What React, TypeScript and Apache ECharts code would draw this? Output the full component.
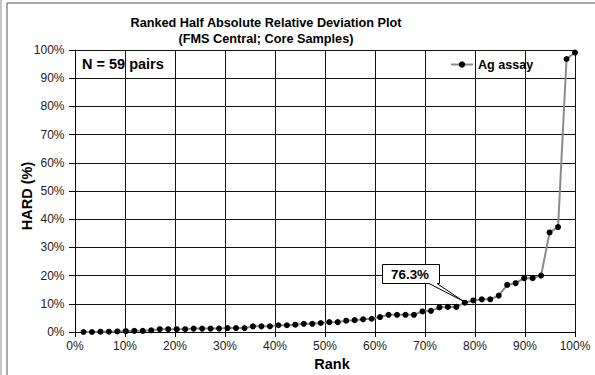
import React, { useEffect, useRef } from "react";
import * as echarts from "echarts";

const seriesName = "Ag assay";
const hardPct: number[] = [
  0.0, 0.0, 0.1, 0.1, 0.2, 0.3, 0.4, 0.4, 0.6, 1.0,
  1.0, 1.0, 1.0, 1.2, 1.2, 1.2, 1.2, 1.4, 1.4, 1.4,
  2.0, 2.0, 2.0, 2.4, 2.4, 2.6, 2.9, 2.9, 3.2, 3.5,
  3.5, 4.0, 4.2, 4.5, 4.7, 5.3, 6.1, 6.1, 6.1, 6.1,
  7.3, 7.5, 8.7, 8.9, 8.9, 10.4, 11.2, 11.6, 11.6, 12.9,
  16.7, 17.3, 19.1, 19.1, 20.0, 35.3, 37.2, 96.8, 99.1,
];
const titleLines = ["Ranked Half Absolute Relative Deviation Plot", "(FMS Central; Core Samples)"];
const nLabel = "N = 59 pairs";
const calloutLabel = "76.3%";
const xAxisTitle = "Rank";
const yAxisTitle = "HARD (%)";

const FONT = "'Liberation Sans', Arial, sans-serif";

export default function App() {
  const ref = useRef<HTMLDivElement>(null);
  useEffect(() => {
    document.body.style.margin = "0";
    if (!ref.current) return;
    const chart = echarts.init(ref.current, null, { renderer: "svg" });
    const n = hardPct.length;
    const data = hardPct.map((v, i) => [((i + 1) / n) * 100, v]);
    chart.setOption({
      animation: false,
      backgroundColor: "#fff",
      textStyle: { fontFamily: FONT },
      grid: { left: 75, right: 20, top: 50, bottom: 43, containLabel: false },
      legend: {
        data: [seriesName],
        left: 450,
        top: 58,
        padding: 0,
        itemWidth: 22,
        itemHeight: 8,
        itemGap: 4,
        textStyle: { fontFamily: FONT, fontSize: 12.6, fontWeight: "bold", color: "#000" },
      },
      xAxis: {
        type: "value",
        min: 0,
        max: 100,
        interval: 10,
        axisLine: { show: true, lineStyle: { color: "#000", width: 1 } },
        axisTick: { show: true, length: 5, lineStyle: { color: "#000" } },
        axisLabel: { formatter: "{value}%", fontSize: 12, color: "#222", margin: 8, fontFamily: FONT },
        splitLine: { show: true, lineStyle: { color: "#111", width: 1 } },
      },
      yAxis: {
        type: "value",
        min: 0,
        max: 100,
        interval: 10,
        axisLine: { show: true, lineStyle: { color: "#000", width: 1 } },
        axisTick: { show: true, length: 6, lineStyle: { color: "#000" } },
        axisLabel: { formatter: "{value}%", fontSize: 12, color: "#222", margin: 10.5, fontFamily: FONT },
        splitLine: { show: true, lineStyle: { color: "#111", width: 1 } },
      },
      series: [
        {
          name: seriesName,
          type: "line",
          data,
          symbol: "circle",
          symbolSize: 6,
          itemStyle: { color: "#000" },
          lineStyle: { color: "#8a8a8a", width: 2 },
          z: 5,
        },
      ],
      graphic: [
        { type: "line", shape: { x1: 1, y1: 0, x2: 1, y2: 375 }, style: { stroke: "#888", lineWidth: 1 } },
        { type: "rect", shape: { x: 7, y: 3, width: 620, height: 400 }, style: { fill: "none", stroke: "#555", lineWidth: 1 } },
        {
          type: "text",
          x: 266,
          y: 23,
          style: { text: titleLines[0], font: `bold 12.7px ${FONT}`, fill: "#000", align: "center", verticalAlign: "middle" },
        },
        {
          type: "text",
          x: 266,
          y: 38.5,
          style: { text: titleLines[1], font: `bold 12.7px ${FONT}`, fill: "#000", align: "center", verticalAlign: "middle" },
        },
        {
          type: "text",
          x: 82,
          y: 64,
          z: 10,
          style: { text: nLabel, font: `bold 14.5px ${FONT}`, fill: "#000", align: "left", verticalAlign: "middle" },
        },
        {
          type: "text",
          x: 332,
          y: 364,
          style: { text: xAxisTitle, font: `bold 14.5px ${FONT}`, fill: "#000", align: "center", verticalAlign: "middle" },
        },
        {
          type: "text",
          x: 27,
          y: 196,
          rotation: Math.PI / 2,
          style: { text: yAxisTitle, font: `bold 14.5px ${FONT}`, fill: "#000", align: "center", verticalAlign: "middle" },
        },
        {
          type: "polygon",
          z: 20,
          shape: {
            points: [
              [382.5, 264.5], [439.5, 264.5], [439.5, 283.5], [437, 283.5], [463, 301],
              [429, 283.5], [382.5, 283.5],
            ],
          },
          style: { fill: "#fff", stroke: "#000", lineWidth: 1 },
        },
        {
          type: "text",
          x: 410,
          y: 274,
          z: 21,
          style: { text: calloutLabel, font: `bold 13.4px ${FONT}`, fill: "#000", align: "center", verticalAlign: "middle" },
        },
      ],
    });
    return () => chart.dispose();
  }, []);
  return <div ref={ref} style={{ width: 595, height: 375 }} />;
}
